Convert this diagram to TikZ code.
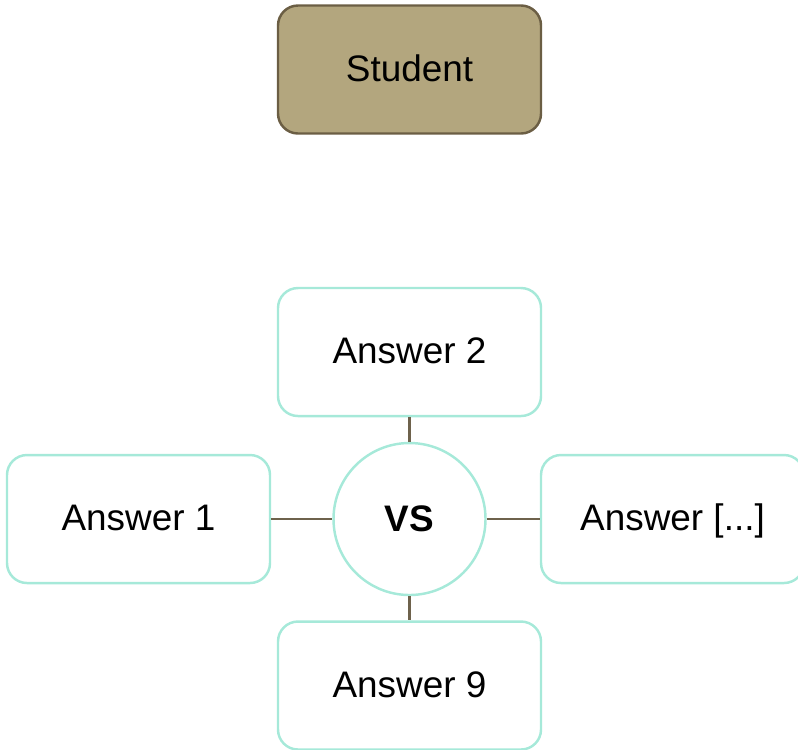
\documentclass[tikz,border=0pt]{standalone}
\usepackage{fontspec}
\setmainfont{Liberation Sans}
\definecolor{boxteal}{HTML}{A6E9D9}
\definecolor{khaki}{HTML}{B3A67E}
\definecolor{khakiline}{HTML}{6B5E44}
\definecolor{linkbrown}{HTML}{6E624C}
\begin{document}
\begin{tikzpicture}[
    answerbox/.style={draw=boxteal, line width=0.7pt, rounded corners=0.2cm, minimum width=2.63cm, minimum height=1.28cm, text height=0.8em, text depth=0.12em, font=\fontsize{10.5}{12}\selectfont},
    link/.style={draw=linkbrown, line width=0.65pt}]
% Fix the page size
\useasboundingbox (0, 0) rectangle (7.98, 7.49);

% Top box
\node[answerbox, draw=khakiline, fill=khaki] (student) at (4.095, 6.795) {Student};

% Circle and the answers round it
\node[draw=boxteal, line width=0.7pt, circle, minimum size=1.52cm, font=\fontsize{10.5}{12}\selectfont\bfseries] (vs) at (4.095, 2.30) {VS};
\node[answerbox] (ans2) at (4.095, 3.97) {Answer 2};
\node[answerbox] (ans1) at (1.385, 2.30) {Answer 1};
\node[answerbox] (ansmore) at (6.725, 2.30) {Answer [...]};
\node[answerbox] (ans9) at (4.095, 0.635) {Answer 9};

% Links
\draw[link] (ans2) -- (vs);
\draw[link] (ans1) -- (vs);
\draw[link] (vs) -- (ansmore);
\draw[link] (vs) -- (ans9);
\end{tikzpicture}
\end{document}
